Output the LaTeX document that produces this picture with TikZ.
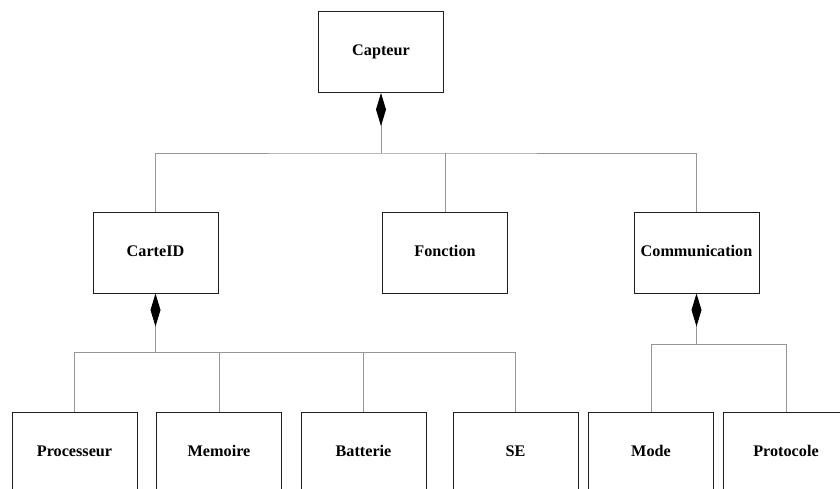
\documentclass[tikz,border=0pt]{standalone}
\usepackage{xcolor}
\usepackage{fontspec}
\setmainfont{Liberation Serif}
\usepackage{tikz}
\usetikzlibrary{arrows.meta, positioning, calc}
\definecolor{boxline}{RGB}{30,30,30}
\definecolor{linkgray}{RGB}{150,150,150}

\tikzset{
    classbox/.style={draw=boxline, line width=1pt, fill=white, minimum width=125pt, minimum height=81pt,
        inner sep=0pt, text height=11pt, text depth=3.5pt, font=\fontsize{16.2}{19}\selectfont\bfseries},
    link/.style={draw=linkgray, line width=1pt},
    compo/.style={link, {Diamond[length=33pt, width=10pt, color=black, fill=black]}-}
}

\begin{document}
\begin{tikzpicture}[x=1pt, y=-1pt]
    \useasboundingbox (0,0) rectangle (840,488);
    \clip (0,0) rectangle (840,488);

    % Top class
    \node[classbox] (capteur) at (381, 52) {Capteur};

    % Second level
    \node[classbox] (carteid) at (155.5, 252.5) {CarteID};
    \node[classbox] (fonction) at (445, 252.5) {Fonction};
    \node[classbox] (communication) at (696.5, 252.5) {Communication};

    % Third level
    \node[classbox] (processeur) at (74.5, 452.5) {Processeur};
    \node[classbox] (memoire) at (219, 452.5) {Memoire};
    \node[classbox] (batterie) at (363.5, 452.5) {Batterie};
    \node[classbox] (se) at (515.5, 452.5) {SE};
    \node[classbox] (mode) at (651, 452.5) {Mode};
    \node[classbox] (protocole) at (786, 452.5) {Protocole};

    % Junction points
    \coordinate (capjoin) at ($(capteur.south)+(0,60)$);
    \coordinate (cartejoin) at ($(carteid.south)+(0,59)$);
    \coordinate (commjoin) at ($(communication.south)+(0,51)$);

    % Capteur composition
    \draw[compo] (capteur.south) -- (capjoin);
    \draw[link] (carteid.north) |- (capjoin) -| (communication.north);
    \draw[link] (fonction.north) -- (fonction.north |- capjoin);

    % CarteID composition
    \draw[compo] (carteid.south) -- (cartejoin);
    \draw[link] (processeur.north) |- (cartejoin) -| (se.north);
    \draw[link] (memoire.north) -- (memoire.north |- cartejoin);
    \draw[link] (batterie.north) -- (batterie.north |- cartejoin);

    % Communication composition
    \draw[compo] (communication.south) -- (commjoin);
    \draw[link] (mode.north) |- (commjoin) -| (protocole.north);
\end{tikzpicture}
\end{document}
